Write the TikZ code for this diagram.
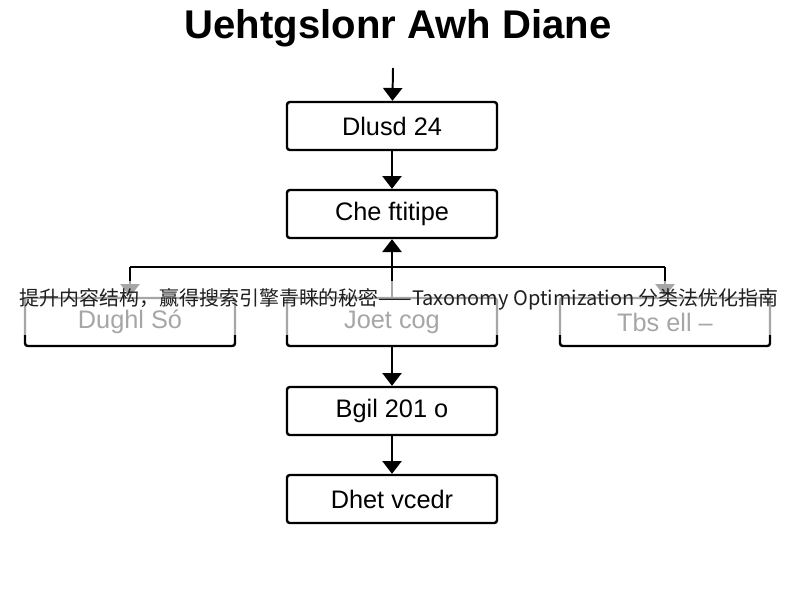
\documentclass[tikz,border=0pt]{standalone}
\usepackage{fontspec}
\setmainfont{Liberation Sans}
\newfontfamily\cjkfont{Noto Sans CJK SC}
\usetikzlibrary{positioning,arrows.meta}

\begin{document}
\begin{tikzpicture}[x=0.025cm, y=-0.025cm,
  fbox/.style={draw, line width=1.7pt, rounded corners=2pt, minimum width=5.25cm, minimum height=1.2cm, font=\fontsize{18}{20}\selectfont, inner sep=2pt, fill=white},
  arr/.style={-{Triangle[length=3.2mm, width=4.8mm]}, line width=1.4pt},
  link/.style={line width=1.4pt},
  ttl/.style={font=\fontsize{28.5}{32}\selectfont\bfseries},
  captext/.style={font=\cjkfont\fontsize{14.2}{17}\selectfont, text=black!88, inner sep=0pt}
]
\useasboundingbox (0,0) rectangle (800,600);
% title
\node[ttl] (title) at (398,28) {Uehtgslonr Awh Diane};
\coordinate (start) at (393,68);
% main column
\node[fbox] (b1) at (392,126) {Dlusd 24};
\node[fbox] (b2) at (392,214) {Che ftitipe};
% middle row
\node[fbox] (bl) at (130,322) {Dughl S\'o};
\node[fbox] (bm) at (392,322) {Joet cog};
\node[fbox] (br) at (665,322) {Tbs ell --};
% lower column
\node[fbox] (b4) at (392,411) {Bgil 201 o};
\node[fbox] (b5) at (392,499) {Dhet vcedr};
% flow
\draw[arr] (start) -- (b1);
\draw[arr] (b1) -- (b2);
\coordinate (jl) at (130,267);
\coordinate (jr) at (665,267);
\draw[link] (jl) -- (jr);
\draw[arr] (jl) -- (bl);
\draw[arr] (jr) -- (br);
\draw[arr] (bm) -- (b2);
\draw[arr] (bm) -- (b4);
\draw[arr] (b4) -- (b5);
% caption band
\fill[white, opacity=0.65] (0,281) rectangle (800,335);
\node[captext] (caption) at (399,299) {提升内容结构，赢得搜索引擎青睐的秘密——Taxonomy Optimization 分类法优化指南};
\end{tikzpicture}
\end{document}
